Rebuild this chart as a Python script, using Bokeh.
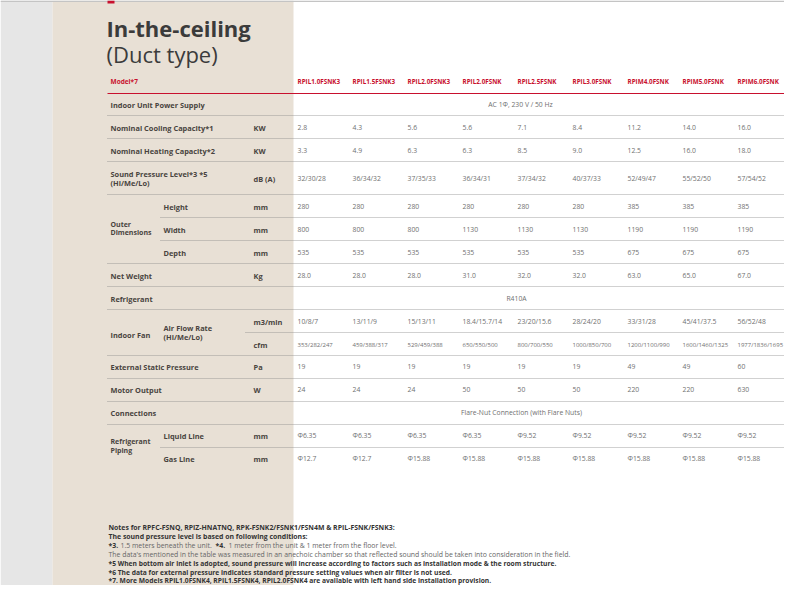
from bokeh.plotting import figure
from bokeh.models import Range1d
from bokeh.core.properties import value
from bokeh.embed import file_html
from bokeh.resources import INLINE

# ---------------- data ----------------
title_main = "In-the-ceiling"
title_sub = "(Duct type)"
models = ["RPIL1.0FSNK3", "RPIL1.5FSNK3", "RPIL2.0FSNK3", "RPIL2.0FSNK", "RPIL2.5FSNK",
          "RPIL3.0FSNK", "RPIM4.0FSNK", "RPIM5.0FSNK", "RPIM6.0FSNK"]
power_supply = "AC 1Φ, 230 V / 50 Hz"
cooling_kw = [2.8, 4.3, 5.6, 5.6, 7.1, 8.4, 11.2, 14.0, 16.0]
heating_kw = [3.3, 4.9, 6.3, 6.3, 8.5, 9.0, 12.5, 16.0, 18.0]
sound_db = ["32/30/28", "36/34/32", "37/35/33", "36/34/31", "37/34/32", "40/37/33",
            "52/49/47", "55/52/50", "57/54/52"]
height_mm = [280, 280, 280, 280, 280, 280, 385, 385, 385]
width_mm = [800, 800, 800, 1130, 1130, 1130, 1190, 1190, 1190]
depth_mm = [535, 535, 535, 535, 535, 535, 675, 675, 675]
net_weight_kg = [28.0, 28.0, 28.0, 31.0, 32.0, 32.0, 63.0, 65.0, 67.0]
refrigerant = "R410A"
airflow_m3min = ["10/8/7", "13/11/9", "15/13/11", "18.4/15.7/14", "23/20/15.6", "28/24/20",
                 "33/31/28", "45/41/37.5", "56/52/48"]
airflow_cfm = ["353/282/247", "459/388/317", "529/459/388", "650/550/500", "800/700/550",
               "1000/850/700", "1200/1100/990", "1600/1460/1325", "1977/1836/1695"]
esp_pa = [19, 19, 19, 19, 19, 19, 49, 49, 60]
motor_w = [24, 24, 24, 50, 50, 50, 220, 220, 630]
connections = "Flare-Nut Connection (with Flare Nuts)"
liquid_mm = ["Φ6.35", "Φ6.35", "Φ6.35", "Φ6.35", "Φ9.52", "Φ9.52", "Φ9.52", "Φ9.52", "Φ9.52"]
gas_mm = ["Φ12.7", "Φ12.7", "Φ15.88", "Φ15.88", "Φ15.88", "Φ15.88", "Φ15.88", "Φ15.88", "Φ15.88"]

notes_bold_1 = "Notes for RPFC-FSNQ, RPIZ-HNATNQ, RPK-FSNK2/FSNK1/FSN4M & RPIL-FSNK/FSNK3:"
notes_bold_2 = "The sound pressure level is based on following conditions:"
note3_a = "*3."
note3_b = "1.5 meters beneath the unit."
note4_a = "*4."
note4_b = "1 meter from the unit & 1 meter from the floor level."
note_reg = ("The data's mentioned in the table was measured in an anechoic chamber so that reflected "
            "sound should be taken into consideration in the field.")
note5 = "*5 When bottom air inlet is adopted, sound pressure will increase according to factors such as installation mode & the room structure."
note6 = "*6 The data for external pressure indicates standard pressure setting values when air filter is not used."
note7 = "*7. More Models RPIL1.0FSNK4, RPIL1.5FSNK4, RPIL2.0FSNK4 are available with left hand side installation provision."

# ---------------- layout ----------------
FONT = "Open Sans"
W, H = 784, 585
p = figure(width=W, height=H, output_backend="svg", toolbar_location=None,
           x_range=Range1d(0, W), y_range=Range1d(H, 0),
           min_border=0, outline_line_color=None, background_fill_color="white",
           border_fill_color="white")
p.axis.visible = False
p.grid.visible = False

# background panels
p.quad(left=0, right=52, top=0, bottom=H, fill_color="#e6e6e6", line_color=None)
p.quad(left=52, right=293, top=0, bottom=H, fill_color="#e8e0d5", line_color=None)
p.quad(left=0, right=W, top=0, bottom=1.5, fill_color="#c4c4c4", line_color=None)
p.quad(left=107, right=114, top=0, bottom=3, fill_color="#c8102e", line_color=None)

def txt(x, y, t, size, color, bold=False, align="left"):
    p.text(x=[x], y=[y], text=[t], text_font=value(FONT), text_font_size=f"{size}px",
           text_color=color, text_font_style="bold" if bold else "normal",
           text_baseline="middle", text_align=align)

# title
txt(106, 27, title_main, 22, "#3b3b3b", bold=True)
txt(106, 53, title_sub, 22, "#3b3b3b")

RED = "#c8102e"
LBL = "#494440"
VAL = "#707070"
col0, step = 297, 55
xs = [col0 + i * step for i in range(len(models))]

# header
txt(110, 81, "Model*7", 6.5, RED, bold=True)
p.text(x=xs, y=[81] * len(models), text=models, text_font=value(FONT), text_font_size="6.3px",
       text_color=RED, text_font_style="bold", text_baseline="middle")
p.segment(x0=[107], x1=[W], y0=[93], y1=[93], line_color=RED, line_width=1.2)

def row_vals(y, vals, size=6.8):
    p.text(x=xs, y=[y] * len(vals), text=[str(v) for v in vals], text_font=value(FONT),
           text_font_size=f"{size}px", text_color=VAL, text_baseline="middle")

def dots(y, x0=107):
    p.segment(x0=[x0], x1=[W], y0=[y], y1=[y], line_color="#8a8a8a",
              line_width=0.8, line_dash="1 1")

LS = 7.4  # label size
GS = 7.0
U = 253

txt(110, 104, "Indoor Unit Power Supply", LS, LBL, True)
txt(520, 104, power_supply, 6.8, VAL, align="center")
dots(115)
txt(110, 127, "Nominal Cooling Capacity*1", LS, LBL, True)
txt(U, 127, "KW", LS, LBL, True)
row_vals(127, [f"{v:.1f}" for v in cooling_kw])
dots(138)
txt(110, 150, "Nominal Heating Capacity*2", LS, LBL, True)
txt(U, 150, "KW", LS, LBL, True)
row_vals(150, [f"{v:.1f}" for v in heating_kw])
dots(161)
txt(110, 173, "Sound Pressure Level*3 *5", LS, LBL, True)
txt(110, 182, "(Hi/Me/Lo)", LS, LBL, True)
txt(U, 178, "dB (A)", LS, LBL, True)
row_vals(178, sound_db)
dots(194)
txt(110, 224, "Outer", GS, LBL, True)
txt(110, 232, "Dimensions", GS, LBL, True)
txt(163, 206, "Height", LS, LBL, True)
txt(U, 206, "mm", LS, LBL, True)
row_vals(206, height_mm)
dots(217, 160)
txt(163, 229, "Width", LS, LBL, True)
txt(U, 229, "mm", LS, LBL, True)
row_vals(229, width_mm)
dots(240, 160)
txt(163, 252, "Depth", LS, LBL, True)
txt(U, 252, "mm", LS, LBL, True)
row_vals(252, depth_mm)
dots(263)
txt(110, 275, "Net Weight", LS, LBL, True)
txt(U, 275, "Kg", LS, LBL, True)
row_vals(275, [f"{v:.1f}" for v in net_weight_kg])
dots(286)
txt(110, 298, "Refrigerant", LS, LBL, True)
txt(516, 298, refrigerant, 6.8, VAL, align="center")
dots(309)
txt(110, 334, "Indoor Fan", LS, LBL, True)
txt(163, 327, "Air Flow Rate", LS, LBL, True)
txt(163, 336, "(Hi/Me/Lo)", LS, LBL, True)
txt(U, 321, "m3/min", LS, LBL, True)
row_vals(321, airflow_m3min)
dots(332, 245)
txt(U, 344, "cfm", LS, LBL, True)
row_vals(344, airflow_cfm, 6.0)
dots(355)
txt(110, 366, "External Static Pressure", LS, LBL, True)
txt(U, 366, "Pa", LS, LBL, True)
row_vals(366, esp_pa)
dots(378)
txt(110, 389, "Motor Output", LS, LBL, True)
txt(U, 389, "W", LS, LBL, True)
row_vals(389, motor_w)
dots(401)
txt(110, 412, "Connections", LS, LBL, True)
txt(521, 412, connections, 6.8, VAL, align="center")
dots(424)
txt(110, 441, "Refrigerant", GS, LBL, True)
txt(110, 450, "Piping", GS, LBL, True)
txt(163, 435, "Liquid Line", LS, LBL, True)
txt(U, 435, "mm", LS, LBL, True)
row_vals(435, liquid_mm)
dots(447, 160)
txt(163, 458, "Gas Line", LS, LBL, True)
txt(U, 458, "mm", LS, LBL, True)
row_vals(458, gas_mm)

# notes
NB = "#333333"
NR = "#666666"
NS = 6.9
txt(108, 527, notes_bold_1, NS, NB, True)
txt(108, 536, notes_bold_2, NS, NB, True)
txt(108, 545, note3_a, NS, NB, True)
txt(120, 545, note3_b, NS, NR)
txt(215, 545, note4_a, NS, NB, True)
txt(228, 545, note4_b, NS, NR)
txt(108, 554, note_reg, NS, NR)
txt(108, 563, note5, 6.7, NB, True)
txt(108, 571.5, note6, 6.7, NB, True)
txt(108, 579.5, note7, 6.7, NB, True)

open("out.html", "w").write(file_html(p, INLINE))
